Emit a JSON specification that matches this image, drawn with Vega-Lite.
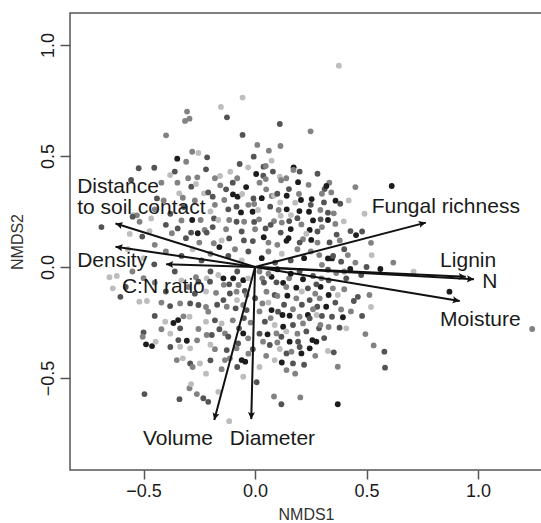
{
  "$schema": "https://vega.github.io/schema/vega-lite/v6.json",
  "width": 472,
  "height": 457,
  "autosize": {"type": "none"},
  "padding": {"left": 70, "top": 13, "right": 0, "bottom": 53},
  "config": {
    "font": "Liberation Sans",
    "view": {"stroke": "#555555", "strokeWidth": 1.5},
    "axis": {
      "grid": false,
      "domain": false,
      "tickColor": "#555555",
      "tickWidth": 1.5,
      "labelColor": "#1a1a1a",
      "labelFontSize": 18,
      "titleFontSize": 16,
      "titleFontWeight": "normal",
      "titleColor": "#333333"
    }
  },
  "datasets": {
    "pts": [
      {"x":-0.056,"y":0.763,"g":4},{"x":-0.305,"y":0.700,"g":3},{"x":-0.294,"y":0.668,"g":3},{"x":-0.314,"y":0.658,"g":3},{"x":-0.153,"y":0.721,"g":4},{"x":-0.126,"y":0.674,"g":2},{"x":-0.399,"y":0.593,"g":3},{"x":-0.056,"y":0.595,"g":2},{"x":0.111,"y":0.644,"g":2},{"x":0.249,"y":0.611,"g":3},
      {"x":0.114,"y":0.545,"g":3},{"x":-0.282,"y":0.519,"g":3},{"x":-0.254,"y":0.514,"g":4},{"x":-0.215,"y":0.494,"g":2},{"x":-0.349,"y":0.488,"g":1},{"x":-0.309,"y":0.474,"g":3},{"x":0.062,"y":0.524,"g":3},{"x":-0.006,"y":0.497,"g":2},{"x":0.074,"y":0.479,"g":4},{"x":-0.069,"y":0.464,"g":2},
      {"x":-0.031,"y":0.449,"g":4},{"x":0.038,"y":0.452,"g":2},{"x":0.048,"y":0.455,"g":3},{"x":0.173,"y":0.449,"g":1},{"x":0.172,"y":0.437,"g":3},{"x":-0.522,"y":0.445,"g":2},{"x":-0.452,"y":0.447,"g":2},{"x":-0.381,"y":0.414,"g":4},{"x":-0.259,"y":0.404,"g":3},{"x":-0.111,"y":0.429,"g":4},
      {"x":-0.157,"y":0.410,"g":4},{"x":0.005,"y":0.419,"g":1},{"x":0.037,"y":0.411,"g":2},{"x":0.048,"y":0.396,"g":3},{"x":0.111,"y":0.407,"g":4},{"x":0.117,"y":0.391,"g":3},{"x":0.193,"y":0.382,"g":1},{"x":-0.556,"y":0.392,"g":2},{"x":-0.348,"y":0.380,"g":3},{"x":-0.286,"y":0.362,"g":2},
      {"x":-0.265,"y":0.374,"g":4},{"x":-0.156,"y":0.368,"g":3},{"x":0.152,"y":0.351,"g":2},{"x":-0.340,"y":0.332,"g":4},{"x":-0.229,"y":0.332,"g":4},{"x":-0.210,"y":0.336,"g":2},{"x":-0.099,"y":0.327,"g":1},{"x":-0.078,"y":0.317,"g":1},{"x":-0.058,"y":0.329,"g":4},{"x":-0.007,"y":0.309,"g":2},
      {"x":0.075,"y":0.320,"g":3},{"x":0.085,"y":0.322,"g":4},{"x":0.113,"y":0.291,"g":4},{"x":0.142,"y":0.321,"g":1},{"x":0.197,"y":0.329,"g":3},{"x":0.206,"y":0.302,"g":1},{"x":0.254,"y":0.306,"g":1},{"x":-0.440,"y":0.309,"g":2},{"x":-0.324,"y":0.312,"g":3},{"x":-0.190,"y":0.317,"g":2},
      {"x":-0.138,"y":0.302,"g":3},{"x":-0.083,"y":0.272,"g":2},{"x":-0.063,"y":0.246,"g":1},{"x":-0.011,"y":0.249,"g":1},{"x":-0.004,"y":0.284,"g":3},{"x":0.013,"y":0.257,"g":4},{"x":0.068,"y":0.272,"g":2},{"x":0.106,"y":0.257,"g":3},{"x":0.142,"y":0.260,"g":1},{"x":0.161,"y":0.234,"g":4},
      {"x":0.199,"y":0.252,"g":1},{"x":0.242,"y":0.249,"g":1},{"x":-0.545,"y":0.234,"g":4},{"x":-0.530,"y":0.233,"g":3},{"x":-0.549,"y":0.227,"g":2},{"x":-0.689,"y":0.180,"g":2},{"x":-0.466,"y":0.219,"g":4},{"x":-0.518,"y":0.204,"g":3},{"x":-0.562,"y":0.149,"g":4},{"x":-0.506,"y":0.137,"g":2},
      {"x":-0.473,"y":0.161,"g":4},{"x":-0.373,"y":0.152,"g":3},{"x":-0.347,"y":0.174,"g":2},{"x":-0.282,"y":0.212,"g":1},{"x":-0.244,"y":0.212,"g":3},{"x":-0.287,"y":0.155,"g":2},{"x":-0.257,"y":0.152,"g":1},{"x":-0.226,"y":0.167,"g":3},{"x":-0.217,"y":0.155,"g":2},{"x":-0.184,"y":0.219,"g":2},
      {"x":-0.165,"y":0.212,"g":4},{"x":-0.116,"y":0.212,"g":3},{"x":-0.083,"y":0.204,"g":2},{"x":-0.049,"y":0.204,"g":3},{"x":-0.004,"y":0.203,"g":2},{"x":0.018,"y":0.215,"g":3},{"x":0.047,"y":0.174,"g":2},{"x":0.085,"y":0.207,"g":3},{"x":0.115,"y":0.231,"g":4},{"x":0.153,"y":0.207,"g":2},
      {"x":0.160,"y":0.171,"g":1},{"x":0.208,"y":0.192,"g":3},{"x":0.245,"y":0.167,"g":1},{"x":0.115,"y":0.155,"g":2},{"x":0.150,"y":0.130,"g":1},{"x":0.141,"y":0.118,"g":1},{"x":0.039,"y":0.134,"g":1},{"x":0.060,"y":0.110,"g":3},{"x":-0.116,"y":0.129,"g":2},{"x":-0.150,"y":0.120,"g":4},
      {"x":-0.185,"y":0.107,"g":3},{"x":-0.010,"y":0.117,"g":2},{"x":0.215,"y":0.125,"g":3},{"x":0.252,"y":0.122,"g":1},{"x":0.376,"y":0.907,"g":4},{"x":0.613,"y":0.365,"g":1},{"x":0.491,"y":0.240,"g":4},{"x":0.333,"y":0.380,"g":3},{"x":0.312,"y":0.351,"g":2},{"x":0.320,"y":0.365,"g":1},
      {"x":0.342,"y":0.336,"g":3},{"x":0.309,"y":0.291,"g":2},{"x":0.361,"y":0.299,"g":1},{"x":0.382,"y":0.285,"g":2},{"x":0.293,"y":0.257,"g":3},{"x":0.327,"y":0.245,"g":2},{"x":0.353,"y":0.242,"g":3},{"x":0.327,"y":0.212,"g":1},{"x":0.294,"y":0.215,"g":2},{"x":0.360,"y":0.194,"g":3},
      {"x":0.398,"y":0.206,"g":4},{"x":0.428,"y":0.162,"g":2},{"x":0.453,"y":0.144,"g":1},{"x":0.366,"y":0.146,"g":2},{"x":0.520,"y":0.109,"g":3},{"x":0.334,"y":0.111,"g":2},{"x":0.280,"y":0.110,"g":3},{"x":-0.452,"y":0.012,"g":2},{"x":-0.653,"y":-0.046,"g":4},{"x":-0.638,"y":-0.096,"g":4},
      {"x":-0.604,"y":-0.134,"g":2},{"x":-0.519,"y":-0.156,"g":4},{"x":-0.485,"y":-0.153,"g":4},{"x":-0.420,"y":-0.160,"g":3},{"x":-0.381,"y":-0.176,"g":2},{"x":-0.336,"y":-0.164,"g":3},{"x":-0.291,"y":-0.164,"g":2},{"x":-0.265,"y":-0.046,"g":3},{"x":-0.254,"y":-0.066,"g":2},{"x":-0.217,"y":-0.051,"g":4},
      {"x":-0.202,"y":-0.066,"g":2},{"x":-0.165,"y":-0.036,"g":4},{"x":-0.175,"y":-0.116,"g":3},{"x":-0.142,"y":-0.051,"g":1},{"x":-0.098,"y":-0.051,"g":1},{"x":-0.116,"y":-0.078,"g":2},{"x":-0.074,"y":-0.081,"g":3},{"x":-0.053,"y":-0.059,"g":1},{"x":-0.031,"y":-0.051,"g":4},{"x":-0.113,"y":-0.119,"g":2},
      {"x":-0.083,"y":-0.111,"g":3},{"x":-0.046,"y":-0.108,"g":2},{"x":-0.038,"y":-0.126,"g":3},{"x":-0.142,"y":-0.149,"g":2},{"x":-0.081,"y":-0.149,"g":4},{"x":-0.127,"y":-0.179,"g":3},{"x":-0.087,"y":-0.186,"g":2},{"x":-0.053,"y":-0.171,"g":3},{"x":-0.038,"y":-0.194,"g":2},{"x":-0.254,"y":-0.171,"g":2},
      {"x":-0.210,"y":-0.201,"g":3},{"x":-0.220,"y":-0.246,"g":4},{"x":-0.321,"y":-0.222,"g":3},{"x":-0.366,"y":-0.252,"g":1},{"x":-0.345,"y":-0.239,"g":1},{"x":-0.336,"y":-0.276,"g":2},{"x":-0.403,"y":-0.246,"g":4},{"x":-0.294,"y":-0.224,"g":4},{"x":-0.254,"y":-0.279,"g":3},{"x":-0.194,"y":-0.306,"g":2},
      {"x":-0.150,"y":-0.254,"g":4},{"x":-0.135,"y":-0.299,"g":3},{"x":-0.120,"y":-0.314,"g":2},{"x":-0.072,"y":-0.276,"g":2},{"x":-0.053,"y":-0.299,"g":1},{"x":-0.031,"y":-0.321,"g":3},{"x":-0.076,"y":-0.344,"g":2},{"x":-0.083,"y":-0.366,"g":3},{"x":-0.127,"y":-0.374,"g":2},{"x":-0.113,"y":-0.411,"g":3},
      {"x":-0.060,"y":-0.419,"g":1},{"x":-0.044,"y":-0.426,"g":1},{"x":-0.135,"y":-0.419,"g":3},{"x":-0.500,"y":-0.294,"g":2},{"x":-0.504,"y":-0.314,"g":3},{"x":-0.489,"y":-0.348,"g":1},{"x":-0.462,"y":-0.356,"g":1},{"x":-0.446,"y":-0.336,"g":4},{"x":-0.344,"y":-0.329,"g":2},{"x":-0.306,"y":-0.332,"g":1},
      {"x":-0.336,"y":-0.359,"g":4},{"x":-0.291,"y":-0.366,"g":4},{"x":-0.351,"y":-0.419,"g":3},{"x":-0.324,"y":-0.411,"g":4},{"x":-0.291,"y":-0.434,"g":2},{"x":-0.247,"y":-0.434,"g":4},{"x":-0.217,"y":-0.306,"g":3},{"x":-0.496,"y":-0.572,"g":2},{"x":-0.339,"y":-0.595,"g":2},{"x":-0.294,"y":-0.546,"g":3},
      {"x":-0.287,"y":-0.527,"g":4},{"x":-0.261,"y":-0.572,"g":3},{"x":-0.232,"y":-0.591,"g":2},{"x":-0.210,"y":-0.607,"g":2},{"x":-0.165,"y":-0.562,"g":4},{"x":-0.053,"y":-0.494,"g":4},{"x":0.007,"y":-0.519,"g":2},{"x":-0.116,"y":-0.694,"g":4},{"x":0.085,"y":-0.583,"g":3},{"x":0.118,"y":-0.618,"g":2},
      {"x":0.203,"y":-0.587,"g":3},{"x":0.032,"y":-0.051,"g":3},{"x":0.074,"y":-0.044,"g":1},{"x":0.096,"y":-0.069,"g":2},{"x":0.126,"y":-0.071,"g":1},{"x":0.153,"y":-0.051,"g":3},{"x":0.185,"y":-0.093,"g":1},{"x":0.215,"y":-0.055,"g":1},{"x":0.237,"y":-0.096,"g":2},{"x":0.051,"y":-0.111,"g":3},
      {"x":0.088,"y":-0.126,"g":2},{"x":0.145,"y":-0.129,"g":1},{"x":0.185,"y":-0.141,"g":3},{"x":0.245,"y":-0.149,"g":2},{"x":0.033,"y":-0.164,"g":3},{"x":0.074,"y":-0.194,"g":1},{"x":0.103,"y":-0.201,"g":2},{"x":0.123,"y":-0.216,"g":1},{"x":0.155,"y":-0.219,"g":1},{"x":0.200,"y":-0.224,"g":3},
      {"x":0.237,"y":-0.216,"g":1},{"x":0.044,"y":-0.246,"g":2},{"x":0.088,"y":-0.261,"g":4},{"x":0.126,"y":-0.269,"g":1},{"x":0.170,"y":-0.261,"g":2},{"x":0.215,"y":-0.254,"g":3},{"x":0.245,"y":-0.231,"g":2},{"x":0.056,"y":-0.303,"g":1},{"x":0.096,"y":-0.299,"g":3},{"x":0.118,"y":-0.314,"g":2},
      {"x":0.155,"y":-0.336,"g":1},{"x":0.193,"y":-0.336,"g":2},{"x":0.257,"y":-0.329,"g":1},{"x":0.036,"y":-0.336,"g":3},{"x":0.066,"y":-0.351,"g":2},{"x":0.111,"y":-0.369,"g":4},{"x":0.141,"y":-0.389,"g":2},{"x":0.163,"y":-0.381,"g":3},{"x":0.208,"y":-0.389,"g":1},{"x":0.245,"y":-0.366,"g":1},
      {"x":0.088,"y":-0.419,"g":4},{"x":0.170,"y":-0.434,"g":2},{"x":0.141,"y":-0.464,"g":3},{"x":0.288,"y":0.054,"g":3},{"x":0.327,"y":0.039,"g":1},{"x":0.345,"y":0.039,"g":1},{"x":0.386,"y":0.024,"g":2},{"x":0.416,"y":0.054,"g":3},{"x":0.523,"y":0.054,"g":4},{"x":0.427,"y":-0.009,"g":1},
      {"x":0.562,"y":-0.009,"g":1},{"x":0.711,"y":-0.021,"g":4},{"x":0.476,"y":-0.036,"g":2},{"x":0.364,"y":-0.027,"g":3},{"x":0.327,"y":-0.012,"g":2},{"x":0.409,"y":-0.051,"g":2},{"x":0.298,"y":-0.051,"g":3},{"x":0.294,"y":-0.089,"g":1},{"x":0.275,"y":-0.078,"g":2},{"x":0.349,"y":-0.096,"g":3},
      {"x":0.371,"y":-0.126,"g":4},{"x":0.330,"y":-0.126,"g":1},{"x":0.461,"y":-0.134,"g":2},{"x":0.513,"y":-0.126,"g":3},{"x":0.443,"y":-0.153,"g":2},{"x":0.290,"y":-0.141,"g":3},{"x":0.279,"y":-0.179,"g":2},{"x":0.319,"y":-0.179,"g":1},{"x":0.386,"y":-0.191,"g":3},{"x":0.345,"y":-0.224,"g":2},
      {"x":0.394,"y":-0.226,"g":1},{"x":0.276,"y":-0.216,"g":4},{"x":0.287,"y":-0.276,"g":2},{"x":0.293,"y":-0.261,"g":3},{"x":0.379,"y":-0.273,"g":2},{"x":0.409,"y":-0.276,"g":4},{"x":0.495,"y":-0.302,"g":3},{"x":0.532,"y":-0.353,"g":3},{"x":0.580,"y":-0.381,"g":2},{"x":0.583,"y":-0.453,"g":2},
      {"x":0.327,"y":-0.378,"g":4},{"x":0.353,"y":-0.384,"g":2},{"x":0.371,"y":-0.449,"g":3},{"x":0.371,"y":-0.618,"g":1},{"x":0.275,"y":-0.336,"g":1},{"x":0.872,"y":-0.111,"g":1},{"x":1.243,"y":-0.279,"g":3},{"x":-0.40,"y":0.07,"g":3},{"x":-0.33,"y":0.05,"g":2},{"x":-0.28,"y":0.08,"g":4},
      {"x":-0.24,"y":0.03,"g":2},{"x":-0.20,"y":0.06,"g":3},{"x":-0.16,"y":0.09,"g":1},{"x":-0.12,"y":0.05,"g":2},{"x":-0.09,"y":0.08,"g":3},{"x":-0.06,"y":0.03,"g":4},{"x":-0.03,"y":0.07,"g":2},{"x":0.03,"y":0.04,"g":1},{"x":0.06,"y":0.07,"g":3},{"x":0.09,"y":0.02,"g":2},
      {"x":0.12,"y":0.06,"g":4},{"x":0.16,"y":0.03,"g":2},{"x":0.19,"y":0.08,"g":3},{"x":0.22,"y":0.04,"g":1},{"x":0.25,"y":0.07,"g":3},{"x":-0.50,"y":0.04,"g":4},{"x":-0.55,"y":-0.02,"g":3},{"x":-0.36,"y":-0.02,"g":2},{"x":-0.30,"y":-0.09,"g":3},{"x":-0.22,"y":-0.11,"g":4},
      {"x":-0.17,"y":-0.17,"g":2},{"x":0.02,"y":-0.02,"g":3},{"x":0.10,"y":-0.01,"g":1},{"x":0.20,"y":-0.02,"g":2},{"x":0.30,"y":0.01,"g":3},{"x":0.40,"y":0.08,"g":2},{"x":0.45,"y":0.02,"g":3},{"x":0.28,"y":0.16,"g":2},{"x":0.23,"y":0.15,"g":4},{"x":0.05,"y":0.35,"g":3},
      {"x":-0.10,"y":0.38,"g":2},{"x":-0.18,"y":0.28,"g":3},{"x":-0.32,"y":0.27,"g":2},{"x":-0.41,"y":0.30,"g":3},{"x":0.01,"y":0.55,"g":3},{"x":-0.02,"y":-0.25,"g":3},{"x":-0.01,"y":-0.37,"g":2},{"x":0.02,"y":-0.45,"g":4},{"x":-0.20,"y":-0.42,"g":2},{"x":-0.18,"y":-0.37,"g":3},
      {"x":-0.42,"y":0.38,"g":3},{"x":-0.36,"y":0.43,"g":2},{"x":-0.30,"y":0.40,"g":3},{"x":-0.22,"y":0.44,"g":2},{"x":-0.18,"y":0.40,"g":3},{"x":-0.13,"y":0.35,"g":2},{"x":-0.08,"y":0.40,"g":3},{"x":-0.04,"y":0.36,"g":1},{"x":0.02,"y":0.38,"g":3},{"x":0.08,"y":0.43,"g":2},
      {"x":0.14,"y":0.40,"g":3},{"x":0.20,"y":0.43,"g":2},{"x":0.24,"y":0.37,"g":3},{"x":0.28,"y":0.42,"g":2},{"x":0.30,"y":0.33,"g":3},{"x":0.25,"y":0.28,"g":2},{"x":0.18,"y":0.29,"g":4},{"x":0.10,"y":0.33,"g":2},{"x":0.03,"y":0.31,"g":1},{"x":-0.03,"y":0.28,"g":3},
      {"x":-0.12,"y":0.26,"g":2},{"x":-0.20,"y":0.25,"g":4},{"x":-0.27,"y":0.30,"g":3},{"x":-0.38,"y":0.24,"g":2},{"x":-0.45,"y":0.26,"g":3},{"x":-0.40,"y":0.19,"g":2},{"x":-0.33,"y":0.21,"g":3},{"x":-0.19,"y":0.18,"g":2},{"x":-0.13,"y":0.17,"g":3},{"x":-0.06,"y":0.16,"g":2},
      {"x":0.00,"y":0.17,"g":3},{"x":0.07,"y":0.19,"g":2},{"x":0.12,"y":0.20,"g":3},{"x":0.19,"y":0.22,"g":2},{"x":0.26,"y":0.21,"g":1},{"x":0.30,"y":0.18,"g":3},{"x":0.20,"y":0.11,"g":2},{"x":0.10,"y":0.10,"g":3},{"x":-0.05,"y":0.12,"g":2},{"x":-0.25,"y":0.11,"g":3},
      {"x":-0.31,"y":0.13,"g":2},{"x":-0.45,"y":0.10,"g":3},{"x":-0.57,"y":0.08,"g":4},{"x":0.35,"y":0.05,"g":2},{"x":0.40,"y":-0.02,"g":3},{"x":0.50,"y":0.00,"g":2},{"x":0.62,"y":0.02,"g":3},{"x":0.38,"y":0.12,"g":3},{"x":0.48,"y":0.16,"g":2},{"x":0.42,"y":0.30,"g":4},
      {"x":0.45,"y":0.36,"g":3},{"x":-0.45,"y":-0.07,"g":3},{"x":-0.40,"y":-0.11,"g":2},{"x":-0.33,"y":-0.06,"g":4},{"x":-0.27,"y":-0.12,"g":2},{"x":-0.22,"y":-0.18,"g":3},{"x":-0.18,"y":-0.24,"g":2},{"x":-0.26,"y":-0.33,"g":3},{"x":-0.20,"y":-0.35,"g":4},{"x":-0.16,"y":-0.28,"g":2},
      {"x":-0.10,"y":-0.24,"g":3},{"x":-0.05,"y":-0.23,"g":2},{"x":0.00,"y":-0.14,"g":2},{"x":0.02,"y":-0.20,"g":3},{"x":0.06,"y":-0.16,"g":4},{"x":0.10,"y":-0.13,"g":3},{"x":0.13,"y":-0.17,"g":2},{"x":0.17,"y":-0.19,"g":3},{"x":0.21,"y":-0.17,"g":2},{"x":0.26,"y":-0.19,"g":3},
      {"x":0.30,"y":-0.22,"g":2},{"x":0.33,"y":-0.27,"g":3},{"x":0.31,"y":-0.32,"g":2},{"x":0.27,"y":-0.40,"g":3},{"x":0.22,"y":-0.44,"g":2},{"x":0.18,"y":-0.48,"g":3},{"x":0.12,"y":-0.43,"g":1},{"x":0.05,"y":-0.40,"g":3},{"x":0.02,"y":-0.30,"g":2},{"x":0.07,"y":-0.23,"g":3},
      {"x":0.14,"y":-0.29,"g":4},{"x":0.19,"y":-0.30,"g":3},{"x":0.23,"y":-0.29,"g":2},{"x":0.10,"y":-0.34,"g":3},{"x":0.20,"y":-0.36,"g":2},{"x":-0.03,"y":-0.39,"g":3},{"x":-0.08,"y":-0.45,"g":2},{"x":-0.15,"y":-0.46,"g":3},{"x":-0.22,"y":-0.48,"g":4},{"x":-0.28,"y":-0.45,"g":3},
      {"x":-0.38,"y":-0.36,"g":2},{"x":-0.42,"y":-0.28,"g":3},{"x":-0.45,"y":-0.22,"g":2},{"x":-0.38,"y":-0.30,"g":4},{"x":0.04,"y":-0.07,"g":2},{"x":0.14,"y":-0.09,"g":3},{"x":0.21,"y":-0.11,"g":4},{"x":0.27,"y":-0.12,"g":3},{"x":0.33,"y":-0.06,"g":2},{"x":0.40,"y":-0.10,"g":3},
      {"x":0.36,"y":-0.16,"g":2},{"x":0.43,"y":-0.20,"g":3},{"x":0.48,"y":-0.22,"g":2},{"x":0.52,"y":-0.18,"g":4},{"x":-0.08,"y":-0.02,"g":2},{"x":-0.14,"y":-0.08,"g":3},{"x":-0.20,"y":-0.02,"g":2},{"x":0.06,"y":-0.03,"g":3},{"x":0.16,"y":-0.03,"g":1},{"x":0.26,"y":-0.04,"g":2},
      {"x":-0.50,"y":-0.05,"g":3},{"x":-0.58,"y":-0.09,"g":2},{"x":-0.62,"y":-0.04,"g":4}
    ],
    "arrows": [
      {"v":"Distance to soil contact","x0":0,"y0":0,"x":-0.626,"y":0.196},
      {"v":"Density","x0":0,"y0":0,"x":-0.626,"y":0.091},
      {"v":"C:N ratio","x0":0,"y0":0,"x":-0.399,"y":0.012},
      {"v":"Fungal richness","x0":0,"y0":0,"x":0.766,"y":0.200},
      {"v":"Lignin","x0":0,"y0":0,"x":0.945,"y":-0.044},
      {"v":"N","x0":0,"y0":0,"x":0.982,"y":-0.055},
      {"v":"Moisture","x0":0,"y0":0,"x":0.918,"y":-0.153},
      {"v":"Volume","x0":0,"y0":0,"x":-0.183,"y":-0.689},
      {"v":"Diameter","x0":0,"y0":0,"x":-0.017,"y":-0.685}
    ],
    "labels": [
      {"t":["Distance","to soil contact"],"x":-0.798,"y":0.333},
      {"t":"Density","x":-0.798,"y":0.001},
      {"t":"C:N ratio","x":-0.597,"y":-0.118},
      {"t":"Fungal richness","x":0.523,"y":0.242},
      {"t":"Lignin","x":0.830,"y":0.001},
      {"t":"N","x":1.019,"y":-0.096},
      {"t":"Moisture","x":0.830,"y":-0.264},
      {"t":"Volume","x":-0.503,"y":-0.802},
      {"t":"Diameter","x":-0.113,"y":-0.802}
    ]
  },
  "layer": [
    {
      "data": {"name": "pts"},
      "mark": {"type": "circle", "size": 34, "opacity": 1},
      "encoding": {
        "x": {"field": "x", "type": "quantitative", "scale": {"domain": [-0.83, 1.287], "nice": false, "zero": false},
              "axis": {"title": "NMDS1", "values": [-0.5, 0, 0.5, 1], "format": ".1f", "tickSize": 9, "labelPadding": 3, "titlePadding": 6}},
        "y": {"field": "y", "type": "quantitative", "scale": {"domain": [-0.914, 1.144], "nice": false, "zero": false},
              "axis": {"title": "NMDS2", "values": [-0.5, 0, 0.5, 1], "format": ".1f", "tickSize": 10, "labelAngle": -90, "labelAlign": "center", "labelBaseline": "bottom", "labelPadding": 3, "titlePadding": 14}},
        "color": {"field": "g", "type": "ordinal", "scale": {"domain": [1, 2, 3, 4], "range": ["#1c1c1c", "#545454", "#828282", "#bdbdbd"]}, "legend": null}
      }
    },
    {
      "data": {"name": "arrows"},
      "mark": {"type": "rule", "color": "#111111", "strokeWidth": 2},
      "encoding": {
        "x": {"field": "x0", "type": "quantitative"},
        "y": {"field": "y0", "type": "quantitative"},
        "x2": {"field": "x"},
        "y2": {"field": "y"}
      }
    },
    {
      "data": {"name": "arrows"},
      "transform": [{"calculate": "-atan2(datum.y, datum.x) * 180 / PI", "as": "ang"}],
      "mark": {"type": "point", "shape": "M0,0L-1,-0.5L-0.8,0L-1,0.5Z", "filled": true, "size": 200, "opacity": 1, "color": "#111111"},
      "encoding": {
        "x": {"field": "x", "type": "quantitative"},
        "y": {"field": "y", "type": "quantitative"},
        "angle": {"field": "ang", "type": "quantitative", "scale": null}
      }
    },
    {
      "data": {"name": "labels"},
      "mark": {"type": "text", "align": "left", "baseline": "alphabetic", "fontSize": 21, "lineHeight": 21, "color": "#1a1a1a"},
      "encoding": {
        "x": {"field": "x", "type": "quantitative"},
        "y": {"field": "y", "type": "quantitative"},
        "text": {"field": "t", "type": "nominal"}
      }
    }
  ]
}
